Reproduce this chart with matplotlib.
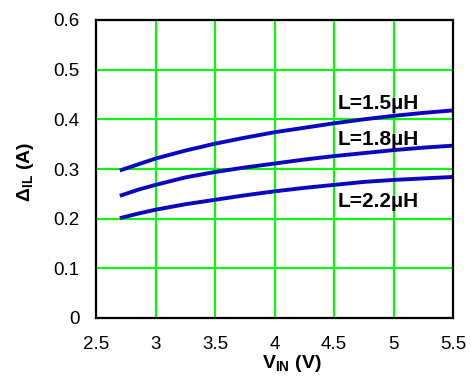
import matplotlib
matplotlib.use("Agg")
import matplotlib.pyplot as plt

plt.rcParams['font.family'] = ['Liberation Sans', 'DejaVu Sans']
plt.rcParams['mathtext.fontset'] = 'custom'
plt.rcParams['mathtext.rm'] = 'Liberation Sans'
plt.rcParams['mathtext.bf'] = 'Liberation Sans:bold'

vin = [2.7, 2.85, 3.0, 3.25, 3.5, 3.75, 4.0, 4.25, 4.5, 4.75, 5.0, 5.25, 5.5]
il_15 = [0.297, 0.309, 0.321, 0.337, 0.351, 0.363, 0.374, 0.383, 0.392, 0.400, 0.407, 0.413, 0.418]
il_18 = [0.246, 0.258, 0.268, 0.283, 0.294, 0.303, 0.311, 0.319, 0.326, 0.332, 0.338, 0.343, 0.347]
il_22 = [0.201, 0.210, 0.218, 0.229, 0.238, 0.247, 0.255, 0.262, 0.268, 0.274, 0.278, 0.281, 0.284]
labels = ["L=1.5µH", "L=1.8µH", "L=2.2µH"]
label_x = 4.53
label_y = [0.420, 0.349, 0.224]
xticks = [2.5, 3, 3.5, 4, 4.5, 5, 5.5]
xticklabels = ["2.5", "3", "3.5", "4", "4.5", "5", "5.5"]
yticks = [0, 0.1, 0.2, 0.3, 0.4, 0.5, 0.6]
yticklabels = ["0", "0.1", "0.2", "0.3", "0.4", "0.5", "0.6"]

fig = plt.figure(figsize=(4.71, 3.76), dpi=100)
ax = fig.add_axes([96/471, 1-318/376, 357/471, 298/376])

blue = '#0808c0'
for ys in (il_15, il_18, il_22):
    ax.plot(vin, ys, color=blue, lw=2.8, solid_capstyle='butt',
            solid_joinstyle='round', zorder=3)

for lab, ly in zip(labels, label_y):
    ax.text(label_x, ly, lab, fontsize=15, fontweight='bold',
            va='baseline', ha='left', zorder=4)

ax.set_xlim(2.5, 5.5)
ax.set_ylim(0, 0.6)
ax.set_xticks(xticks)
ax.set_xticklabels(xticklabels)
ax.set_yticks(yticks)
ax.set_yticklabels(yticklabels)
ax.tick_params(axis='both', length=0, labelsize=13.5)
ax.tick_params(axis='x', pad=13)
ax.tick_params(axis='y', pad=12)
ax.grid(True, color='#00ff00', lw=1.5, zorder=1)
ax.set_axisbelow(True)
for s in ax.spines.values():
    s.set_color('black')
    s.set_linewidth(1.6)
    s.set_zorder(5)

fig.text(292/471, 1-368/376, r"V$_{\mathbf{IN}}$ (V)", fontsize=14,
         fontweight='bold', ha='center', va='baseline')
fig.text(25/471, 1-172/376, r"Δ$_{\mathbf{IL}}$ (A)", fontsize=14,
         fontweight='bold', ha='center', va='center', rotation=90)

fig.savefig("out.png", dpi=100)
